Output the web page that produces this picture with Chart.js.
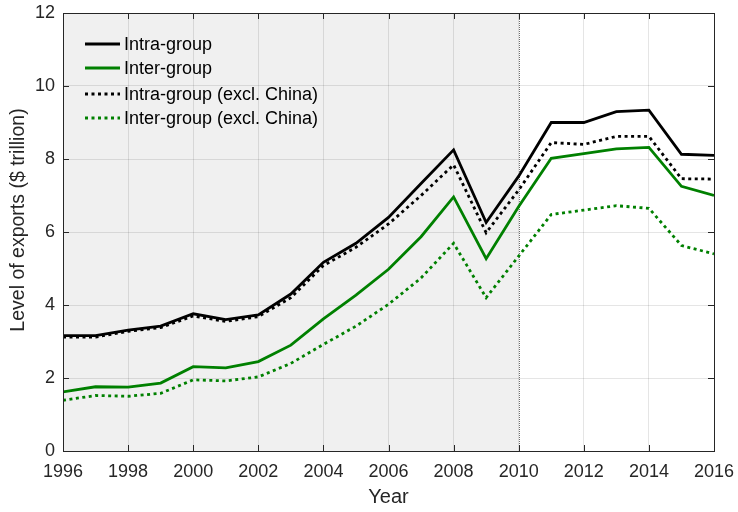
<!DOCTYPE html>
<html>
<head>
<meta charset="utf-8">
<script src="https://cdn.jsdelivr.net/npm/chart.js@4"></script>
<style>
  html, body { margin: 0; padding: 0; background: #ffffff; }
  #wrap { width: 738px; height: 512px; }
</style>
</head>
<body>
<div id="wrap"><canvas id="c" width="738" height="512"></canvas></div>
<script>
// Export levels, $ trillion
const years = [1996,1997,1998,1999,2000,2001,2002,2003,2004,2005,2006,2007,2008,2009,2010,2011,2012,2013,2014,2015,2016];
const intraGroup      = [3.16,3.16,3.31,3.42,3.76,3.60,3.73,4.30,5.17,5.69,6.40,7.33,8.25,6.26,7.53,9.00,9.00,9.30,9.34,8.13,8.10];
const interGroup      = [1.62,1.76,1.75,1.86,2.31,2.28,2.45,2.90,3.62,4.27,4.98,5.87,6.96,5.27,6.70,8.02,8.15,8.28,8.32,7.25,7.00];
const intraGroupExCN  = [3.12,3.12,3.28,3.38,3.70,3.55,3.68,4.20,5.08,5.58,6.22,7.00,7.84,5.98,7.15,8.45,8.40,8.62,8.62,7.46,7.45];
const interGroupExCN  = [1.39,1.52,1.50,1.58,1.95,1.92,2.03,2.40,2.92,3.42,4.02,4.74,5.69,4.20,5.34,6.48,6.60,6.72,6.65,5.63,5.40];
const seriesLabels = ['Intra-group','Inter-group','Intra-group (excl. China)','Inter-group (excl. China)'];
const xTicks = [1996,1998,2000,2002,2004,2006,2008,2010,2012,2014,2016];
const yTicks = [0,2,4,6,8,10,12];
const shadedSpan = [1996, 2010];
const yTitle = 'Level of exports ($ trillion)';

const GREEN = '#008000';
const TEXT = '#262626';
const FONT = '"Liberation Sans", Arial, Helvetica, sans-serif';
const DOT = [3, 3.5];

const toPts = arr => arr.map((v, i) => ({ x: years[i], y: v }));

// Shaded period, vertical marker, inner tick marks, frame, y title and legend
const decor = {
  id: 'decor',
  beforeDraw(chart) {
    const { ctx, chartArea: a, scales: { x } } = chart;
    ctx.save();
    const x0 = x.getPixelForValue(shadedSpan[0]);
    const x1 = x.getPixelForValue(shadedSpan[1]);
    ctx.fillStyle = '#f0f0f0';
    ctx.fillRect(x0, a.top, x1 - x0, a.bottom - a.top);
    ctx.restore();
  },
  beforeDatasetsDraw(chart) {
    const { ctx, chartArea: a, scales: { x } } = chart;
    ctx.save();
    const xm = Math.round(x.getPixelForValue(shadedSpan[1])) + 0.5;
    ctx.strokeStyle = '#6e6e6e';
    ctx.lineWidth = 1;
    ctx.setLineDash([1, 1]);
    ctx.beginPath();
    ctx.moveTo(xm, a.top);
    ctx.lineTo(xm, a.bottom);
    ctx.stroke();
    ctx.restore();
  },
  afterDatasetsDraw(chart) {
    const { ctx, chartArea: a, scales: { x, y } } = chart;
    ctx.save();
    // frame
    ctx.strokeStyle = TEXT;
    ctx.lineWidth = 1;
    ctx.strokeRect(Math.round(a.left) + 0.5, Math.round(a.top) + 0.5,
                   Math.round(a.right - a.left), Math.round(a.bottom - a.top));
    // inner ticks
    const L = 6;
    ctx.beginPath();
    xTicks.forEach(v => {
      const px = Math.round(x.getPixelForValue(v)) + 0.5;
      ctx.moveTo(px, a.bottom); ctx.lineTo(px, a.bottom - L);
      ctx.moveTo(px, a.top); ctx.lineTo(px, a.top + L);
    });
    yTicks.forEach(v => {
      const py = Math.round(y.getPixelForValue(v)) + 0.5;
      ctx.moveTo(a.left, py); ctx.lineTo(a.left + L, py);
      ctx.moveTo(a.right, py); ctx.lineTo(a.right - L, py);
    });
    ctx.stroke();

    // y axis title
    ctx.save();
    ctx.translate(18.5, a.top + (a.bottom - a.top) / 2 - 12);
    ctx.rotate(-Math.PI / 2);
    ctx.font = '19.5px ' + FONT;
    ctx.fillStyle = TEXT;
    ctx.textAlign = 'center';
    ctx.textBaseline = 'middle';
    ctx.fillText(yTitle, 0, 0);
    ctx.restore();

    // legend
    const lx0 = a.left + 22, lx1 = a.left + 57, tx = a.left + 61;
    const rowY = [a.top + 31, a.top + 55, a.top + 81, a.top + 105];
    ctx.font = '18px ' + FONT;
    ctx.textBaseline = 'middle';
    ctx.textAlign = 'left';
    chart.data.datasets.forEach((ds, i) => {
      const yy = rowY[i];
      ctx.strokeStyle = ds.borderColor;
      ctx.lineWidth = ds.borderWidth;
      ctx.setLineDash(ds.borderDash || []);
      ctx.beginPath();
      ctx.moveTo(lx0, yy); ctx.lineTo(lx1, yy);
      ctx.stroke();
      ctx.setLineDash([]);
      ctx.fillStyle = '#000000';
      ctx.fillText(ds.label, tx, yy + 1);
    });
    ctx.restore();
  }
};

new Chart(document.getElementById('c'), {
  type: 'line',
  data: {
    datasets: [
      { label: seriesLabels[0], data: toPts(intraGroup), borderColor: '#000000', borderWidth: 2.8 },
      { label: seriesLabels[1], data: toPts(interGroup), borderColor: GREEN, borderWidth: 2.8 },
      { label: seriesLabels[2], data: toPts(intraGroupExCN), borderColor: '#000000', borderWidth: 2.8, borderDash: DOT },
      { label: seriesLabels[3], data: toPts(interGroupExCN), borderColor: GREEN, borderWidth: 2.8, borderDash: DOT }
    ]
  },
  options: {
    responsive: false,
    animation: false,
    devicePixelRatio: 1,
    layout: { padding: { left: 0, right: 24, top: 13, bottom: 0 } },
    elements: {
      point: { radius: 0, hoverRadius: 0 },
      line: { tension: 0, fill: false, borderCapStyle: 'butt', borderJoinStyle: 'miter' }
    },
    plugins: { legend: { display: false }, tooltip: { enabled: false } },
    scales: {
      x: {
        type: 'linear',
        min: 1996, max: 2016,
        afterBuildTicks: s => { s.ticks = xTicks.map(v => ({ value: v })); },
        afterFit: s => { s.height = 61; s.paddingLeft = 0; s.paddingRight = 0; },
        grid: { color: 'rgba(0,0,0,0.1)', drawTicks: false },
        border: { display: false },
        ticks: { color: TEXT, font: { family: FONT, size: 18 }, padding: 10, maxRotation: 0,
                 callback: v => String(v) },
        title: { display: true, text: 'Year', color: TEXT, font: { family: FONT, size: 20 }, padding: { top: 0, bottom: 3 } }
      },
      y: {
        min: 0, max: 12,
        afterBuildTicks: s => { s.ticks = yTicks.map(v => ({ value: v })); },
        afterFit: s => { s.width = 63; s.paddingTop = 0; s.paddingBottom = 0; },
        grid: { color: 'rgba(0,0,0,0.1)', drawTicks: false },
        border: { display: false },
        ticks: { color: TEXT, font: { family: FONT, size: 18 }, padding: 8 },
        title: { display: false }
      }
    }
  },
  plugins: [decor]
});
</script>
</body>
</html>
